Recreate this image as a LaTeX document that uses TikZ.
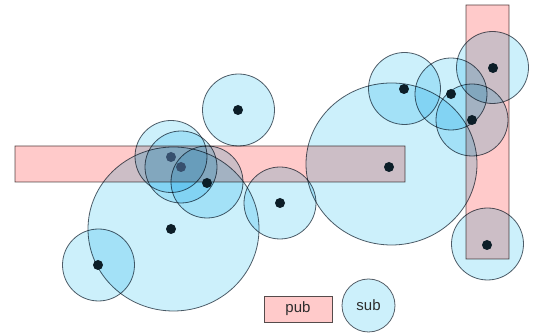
\documentclass[tikz,border=0pt]{standalone}
\usepackage{fontspec}
\setmainfont{Liberation Sans}
\usetikzlibrary{shapes.geometric}
\definecolor{pinkfill}{RGB}{255,202,202}
\definecolor{bluefill}{RGB}{204,240,251}
\definecolor{rectline}{RGB}{85,75,75}
\definecolor{circline}{RGB}{85,95,105}
\definecolor{dotcol}{RGB}{12,30,40}
\definecolor{dotdim}{RGB}{55,80,110}
\definecolor{txt}{RGB}{45,45,45}
\tikzset{
  pubbox/.style={rectangle, draw=rectline, fill=pinkfill, line width=0.9pt, inner sep=0pt, outer sep=0pt},
  subcirc/.style={circle, draw=circline, fill=bluefill, line width=0.8pt, inner sep=0pt, outer sep=0pt, minimum size=72pt},
  bigcirc/.style={ellipse, draw=circline, fill=bluefill, line width=0.8pt, inner sep=0pt, outer sep=0pt},
  pt/.style={circle, fill=dotcol, inner sep=0pt, minimum size=10pt},
  ptdim/.style={circle, fill=dotdim, inner sep=0pt, minimum size=10pt},
  legtext/.style={text=txt, font=\fontsize{15}{17}\selectfont}
}
\begin{document}
\begin{tikzpicture}[x=1pt,y=-1pt]
\useasboundingbox (0,0) rectangle (539,336);
\begin{scope}[blend group=multiply]
  \node[pubbox, minimum width=390pt, minimum height=36pt] (hrect) at (210,164) {};
  \node[pubbox, minimum width=43pt, minimum height=254pt] (vrect) at (487.5,132) {};
  \node[bigcirc, minimum width=171pt, minimum height=164pt] (bigL) at (173.5,229) {};
  \node[bigcirc, minimum width=171pt, minimum height=162pt] (bigR) at (391.5,164) {};
  \node[subcirc] (ctop) at (238.5,110) {};
  \node[subcirc] (cA) at (171,156.5) {};
  \node[subcirc] (cB) at (181,167) {};
  \node[subcirc] (cC) at (207,182) {};
  \node[subcirc] (cD) at (280,203) {};
  \node[subcirc] (cE) at (98.5,265) {};
  \node[subcirc] (cF) at (404.5,88.5) {};
  \node[subcirc] (cG) at (451,94) {};
  \node[subcirc] (cH) at (492.5,67.5) {};
  \node[subcirc] (cI) at (472,120) {};
  \node[subcirc] (cJ) at (487.5,244) {};
\end{scope}
\node[pt] (dtop) at (238,110) {};
\node[ptdim] (dA) at (171,157) {};
\node[ptdim] (dB) at (181,167) {};
\node[pt] (dC) at (207,183) {};
\node[pt] (dD) at (280,203) {};
\node[pt] (dE) at (98,265) {};
\node[pt] (dL) at (171,229) {};
\node[pt] (dR) at (389,167) {};
\node[pt] (dF) at (404,89) {};
\node[pt] (dG) at (451,94) {};
\node[pt] (dH) at (493,68) {};
\node[pt] (dI) at (472,120) {};
\node[pt] (dJ) at (487,245) {};
\node[pubbox, minimum width=68pt, minimum height=26pt, legtext] (pub) at (298,309) {pub};
\node[subcirc, minimum size=53pt, legtext] (sub) at (368.5,305.5) {sub};
\end{tikzpicture}
\end{document}
